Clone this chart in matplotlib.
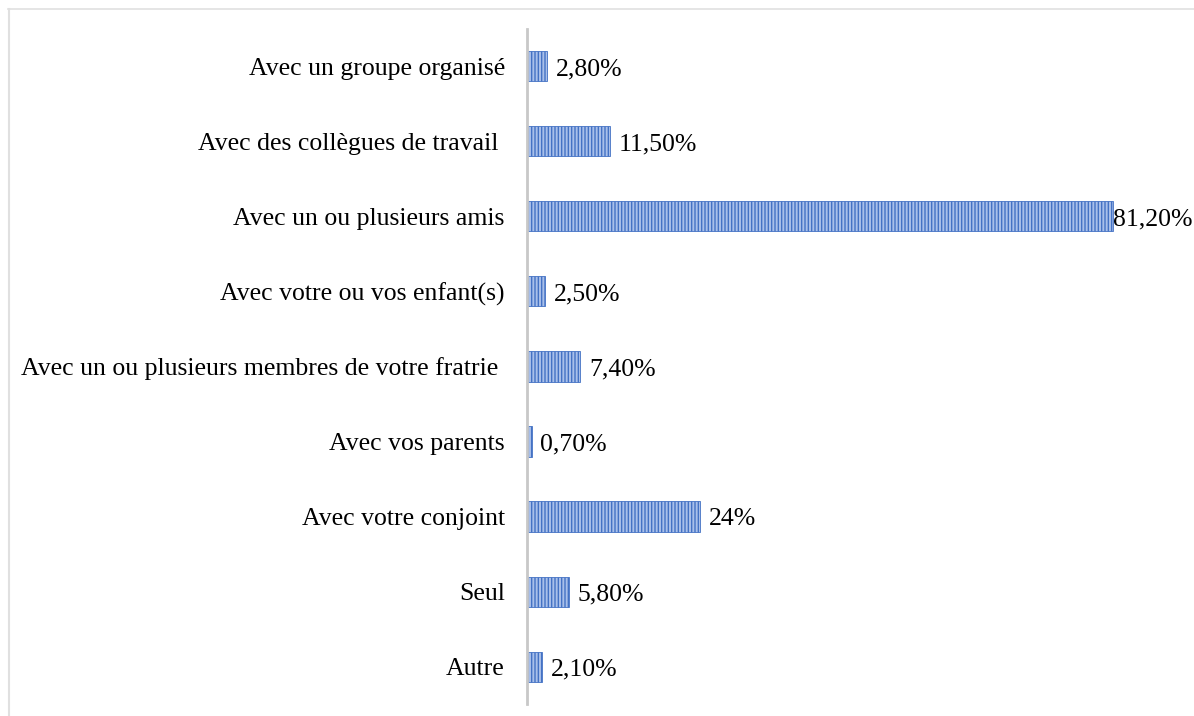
import matplotlib.pyplot as plt
from matplotlib.lines import Line2D

# Categories from top to bottom, as shown on the chart
categories = [
    "Avec un groupe organisé",
    "Avec des collègues de travail ",
    "Avec un ou plusieurs amis",
    "Avec votre ou vos enfant(s)",
    "Avec un ou plusieurs membres de votre fratrie ",
    "Avec vos parents",
    "Avec votre conjoint",
    "Seul",
    "Autre",
]
values = [2.8, 11.5, 81.2, 2.5, 7.4, 0.7, 24.0, 5.8, 2.1]
value_labels = ["2,80%", "11,50%", "81,20%", "2,50%", "7,40%",
                "0,70%", "24%", "5,80%", "2,10%"]

plt.rcParams["font.family"] = ["Liberation Serif", "DejaVu Serif"]
plt.rcParams["hatch.linewidth"] = 1.0

fig = plt.figure(figsize=(11.94, 7.16), dpi=100)
ax = fig.add_axes([527 / 1194, 12 / 716, 655 / 1194, 675 / 716])

y = list(range(len(categories)))
bars = ax.barh(y, values, height=0.4, color="#a9c0ea",
               edgecolor="#4472C4", linewidth=0.6, hatch="|||||")

ax.set_ylim(len(categories) - 0.5, -0.5)
ax.set_xlim(0, 655 / 7.22)

ax.set_yticks(y)
ax.set_yticklabels(categories, fontsize=18.5, color="black")
ax.tick_params(axis="y", length=0, pad=16)
ax.set_xticks([])

for s in ["top", "right", "bottom"]:
    ax.spines[s].set_visible(False)
ax.spines["left"].set_color("#c8c8c8")
ax.spines["left"].set_linewidth(2)

vmax = max(values)
for v, yy, lab in zip(values, y, value_labels):
    off = 0 if v == vmax else 6
    ax.annotate(lab, (v, yy), xytext=(off, 0), textcoords="offset points",
                va="center_baseline", ha="left", fontsize=18.5, color="black")

# light frame around the chart area
fig.add_artist(Line2D([8 / 1194, 1.0], [1 - 9 / 716, 1 - 9 / 716],
                      transform=fig.transFigure, color="#e0e0e0", lw=1.2))
fig.add_artist(Line2D([9 / 1194, 9 / 1194], [0, 1 - 9 / 716],
                      transform=fig.transFigure, color="#e0e0e0", lw=1.5))

fig.savefig("out.png", dpi=100)
